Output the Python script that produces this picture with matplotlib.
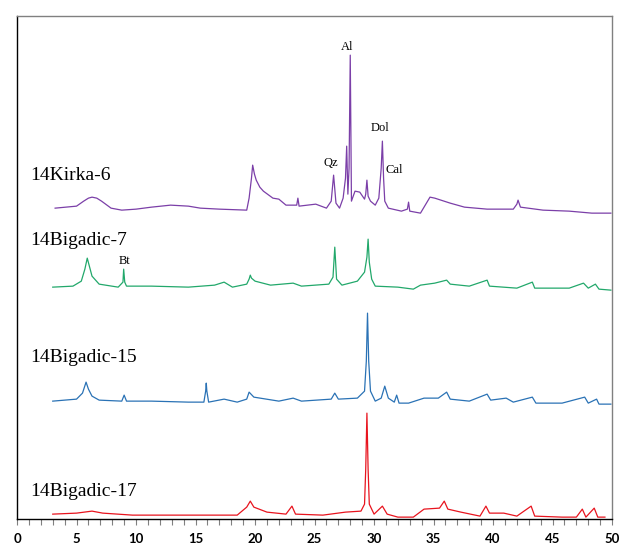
import matplotlib
matplotlib.use('Agg')
import matplotlib.pyplot as plt

# 2-theta positions and intensities (arbitrary units above each trace's baseline)
kirka_x = [3.2, 5.0, 5.6, 6.0, 6.3, 6.7, 7.1, 7.9, 8.8, 10.0, 11.3, 12.9, 14.4, 15.4, 17.0, 19.3,
           19.5, 19.7, 19.8, 19.95, 20.1, 20.4, 20.7, 21.5, 22.0, 22.6, 23.5, 23.6, 23.7, 25.1,
           26.0, 26.4, 26.6, 26.8, 27.1, 27.4, 27.6, 27.7, 27.8, 27.9, 28.0, 28.1, 28.4, 28.8,
           29.2, 29.3, 29.4, 29.5, 29.7, 30.1, 30.4, 30.6, 30.7, 30.8, 30.9, 31.2, 32.3, 32.8,
           32.9, 33.0, 33.9, 34.4, 34.7, 35.1, 36.4, 37.6, 39.5, 41.7, 42.0, 42.1, 42.3, 44.2,
           46.4, 48.3, 49.9]
kirka_y = [0, 2, 7, 10, 11, 10, 7, 0, -2, -1, 1, 3, 2, 0, -1, -2,
           10, 30, 43, 34, 28, 21, 17, 10, 9, 3, 3, 10, 2, 4,
           0, 7, 33, 5, 0, 10, 30, 62, 14, 40, 153, 7, 17, 16,
           9, 14, 28, 12, 7, 3, 10, 40, 67, 30, 7, 0, -3, -1,
           6, -3, -5, 5, 11, 10, 5, 1, -1, -1, 4, 8, 1, -2,
           -3, -5, -5]

big7_x = [3.0, 4.7, 5.4, 5.7, 5.9, 6.1, 6.3, 6.9, 8.5, 8.9, 8.96, 9.05, 9.2, 11.3, 14.4,
          16.6, 17.4, 18.1, 19.3, 19.5, 19.6, 19.7, 20.0, 21.3, 23.2, 23.9, 26.2, 26.55,
          26.7, 26.85, 27.3, 28.6, 29.2, 29.4, 29.5, 29.6, 29.8, 30.1, 32.0, 33.3, 33.9,
          35.1, 36.1, 36.4, 38.0, 39.5, 39.7, 42.0, 43.3, 43.5, 45.2, 46.4, 47.6, 48.0, 48.6,
          48.9, 49.9]
big7_y = [0, 1, 6, 18, 29, 20, 11, 3, 0, 5, 18, 5, 1, 1, 0,
          2, 5, 0, 3, 8, 12, 9, 6, 2, 4, 1, 3, 10,
          40, 8, 2, 6, 15, 30, 48, 25, 8, 1, 0, -2, 2,
          4, 7, 3, 1, 7, 1, -1, 5, -1, -1, -1, 4, -1, 3,
          -2, -3]

big15_x = [3.0, 5.0, 5.5, 5.8, 6.0, 6.3, 6.9, 8.8, 9.0, 9.2, 11.3, 14.4, 15.7, 15.85, 15.9,
           15.95, 16.1, 17.4, 18.5, 19.3, 19.5, 19.9, 22.0, 23.2, 23.9, 26.4, 26.7, 27.0, 28.6,
           29.2, 29.35, 29.45, 29.55, 29.7, 30.1, 30.6, 30.9, 31.2, 31.7, 31.9, 32.1, 32.9, 34.2,
           35.4, 36.1, 36.4, 38.0, 39.5, 39.8, 41.1, 41.7, 43.3, 43.6, 45.8, 47.7, 48.0, 48.7,
           48.9, 49.9]
big15_y = [0, 2, 8, 19, 12, 5, 1, 0, 6, 0, 0, -1, -1, 10, 18,
           10, -1, 2, -1, 2, 9, 4, 0, 3, 0, 2, 8, 2, 3,
           10, 40, 88, 40, 10, 0, 3, 15, 3, -1, 6, -2, -2, 3,
           3, 9, 2, 0, 7, 1, 3, -1, 4, -2, -2, 4, -2, 2,
           -3, -3]

big17_x = [3.0, 5.0, 6.3, 7.2, 9.7, 14.4, 18.5, 19.3, 19.6, 19.9, 21.0, 22.6, 23.1, 23.4, 25.7,
           27.6, 28.9, 29.2, 29.3, 29.4, 29.5, 29.6, 30.0, 30.7, 31.1, 32.0, 33.3, 34.2, 35.5,
           35.9, 36.2, 37.3, 38.9, 39.4, 39.7, 40.9, 42.0, 43.2, 43.5, 45.8, 47.0, 47.5, 47.8,
           48.5, 48.8, 49.4]
big17_y = [0, 1, 3, 1, -1, -1, -1, 7, 13, 7, 2, 0, 8, 0, -1,
           2, 3, 10, 45, 101, 45, 10, 0, 8, 0, -3, -3, 5, 6,
           13, 5, 2, -2, 8, 1, 1, -2, 8, -2, -3, -3, 5, -3,
           6, -3, -3]

samples = ['14Kirka-6', '14Bigadic-7', '14Bigadic-15', '14Bigadic-17']
phases = ['Al', 'Qz', 'Cal', 'Dol', 'Bt']

traces = [(kirka_x, kirka_y, 311, '#7B3FA8'),
          (big7_x, big7_y, 232, '#22A86B'),
          (big15_x, big15_y, 118, '#2A72B5'),
          (big17_x, big17_y, 5, '#E8141E')]

fig = plt.figure(figsize=(6.31, 5.57), dpi=100)
ax = fig.add_axes([0.027, 0.068, 0.943, 0.903])

for (x, y, off, col) in traces:
    ax.plot(x, [v + off for v in y], color=col, lw=0.9)

serif = ['Liberation Serif', 'DejaVu Serif']
label_pos = [(1.1, 344), (1.1, 279), (1.1, 162), (1.1, 28)]
for name, (lx, ly) in zip(samples, label_pos):
    ax.text(lx, ly, name, family=serif, fontsize=14, ha='left', va='center')

phase_pos = [(27.7, 472), (26.4, 356), (31.7, 349), (30.5, 391), (9.0, 258)]
for name, (px, py) in zip(phases, phase_pos):
    ax.text(px, py, name, family=serif, fontsize=9, ha='center', va='center')

ax.set_xlim(0, 50)
ax.set_ylim(0, 503)
ax.set_yticks([])
ax.set_xticks(range(0, 51, 5))
ax.set_xticks(range(0, 51, 1), minor=True)
ax.tick_params(axis='x', which='both', direction='out', length=4, width=0.8, color='#808080')
ax.tick_params(axis='x', which='major', labelsize=9.5, pad=6)
for lab in ax.get_xticklabels():
    lab.set_fontweight('bold')
    lab.set_family(['Lato', 'DejaVu Sans'])

ax.spines['left'].set_color('black')
ax.spines['bottom'].set_color('black')
ax.spines['top'].set_color('#808080')
ax.spines['right'].set_color('#808080')
for s in ax.spines.values():
    s.set_linewidth(1.0)

fig.savefig('out.png', dpi=100)
